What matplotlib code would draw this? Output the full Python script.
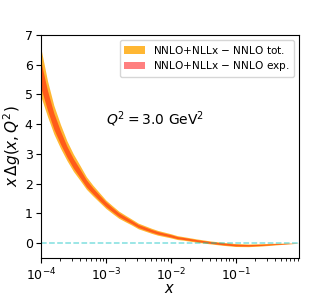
import numpy as np
import matplotlib
matplotlib.use("Agg")
import matplotlib.pyplot as plt

# values
x = [1.0e-4, 1.26e-4, 1.58e-4, 2.0e-4, 2.51e-4, 3.16e-4, 3.98e-4, 5.01e-4,
     6.31e-4, 7.94e-4, 1.0e-3, 1.26e-3, 1.58e-3, 2.0e-3, 2.51e-3, 3.16e-3,
     3.98e-3, 5.01e-3, 6.31e-3, 7.94e-3, 1.0e-2, 1.26e-2, 1.58e-2, 2.51e-2,
     3.98e-2, 6.31e-2, 0.1, 0.158, 0.251, 0.398, 0.631, 0.95]
central = [5.65, 4.80, 4.10, 3.55, 3.08, 2.68, 2.35, 2.01,
           1.76, 1.53, 1.31, 1.13, 0.96, 0.83, 0.71, 0.58,
           0.50, 0.42, 0.35, 0.30, 0.25, 0.19, 0.16, 0.09,
           0.03, -0.02, -0.06, -0.07, -0.055, -0.03, -0.01, 0.0]
tot_err = [0.81, 0.60, 0.48, 0.40, 0.33, 0.29, 0.25, 0.21,
           0.18, 0.16, 0.14, 0.13, 0.12, 0.11, 0.10, 0.095,
           0.09, 0.085, 0.08, 0.075, 0.07, 0.065, 0.06, 0.055,
           0.05, 0.05, 0.05, 0.045, 0.04, 0.03, 0.015, 0.0]
exp_err = [0.44, 0.33, 0.27, 0.22, 0.18, 0.16, 0.14, 0.12,
           0.10, 0.09, 0.08, 0.07, 0.065, 0.06, 0.055, 0.05,
           0.05, 0.045, 0.045, 0.04, 0.04, 0.035, 0.035, 0.03,
           0.03, 0.03, 0.03, 0.025, 0.02, 0.015, 0.008, 0.0]
tot_shift = [0.08, 0.06, 0.05, 0.04, 0.03, 0.025, 0.02, 0.015,
             0.01, 0.01, 0.0, 0.0, 0.0, 0.0, 0.0, 0.0,
             0.0, 0.0, 0.0, 0.0, 0.0, 0.0, 0.0, 0.0,
             0.0, 0.0, 0.0, 0.0, 0.0, 0.0, 0.0, 0.0]

def plot(output_path):
    xs = np.array(x)
    c = np.array(central)
    t = np.array(tot_err)
    e = np.array(exp_err)
    s = np.array(tot_shift)

    fig = plt.figure(figsize=(3.33, 2.95), dpi=100)
    ax = fig.add_axes([0.123, 0.125, 0.775, 0.757])

    ax.fill_between(xs, c + s - t, c + s + t, color="orange", alpha=0.8,
                    linewidth=0, label=r"NNLO+NLLx $-$ NNLO tot.")
    ax.fill_between(xs, c - e, c + e, color="red", alpha=0.5,
                    linewidth=0, label=r"NNLO+NLLx $-$ NNLO exp.")
    ax.axhline(0, color="c", alpha=0.5, linestyle="--", linewidth=1.1)

    ax.set_xscale("log")
    ax.set_xlim(1e-4, 0.95)
    ax.set_ylim(-0.5, 7)
    ax.set_yticks(range(8))
    ax.tick_params(labelsize=9, pad=2.5)
    ax.set_xlabel(r"$x$", fontsize=10.5, labelpad=-1.5)
    ax.set_ylabel(r"$x\,\Delta g(x,Q^2)$", fontsize=11, labelpad=1)
    ax.text(1e-3, 4.0, r"$Q^2 = 3.0\ \mathrm{GeV}^2$", fontsize=10)
    ax.legend(loc="upper right", fontsize=7.6, labelspacing=0.35,
              borderpad=0.35)

    fig.savefig(output_path, dpi=100)

if __name__ == "__main__":
    plot("out.png")
